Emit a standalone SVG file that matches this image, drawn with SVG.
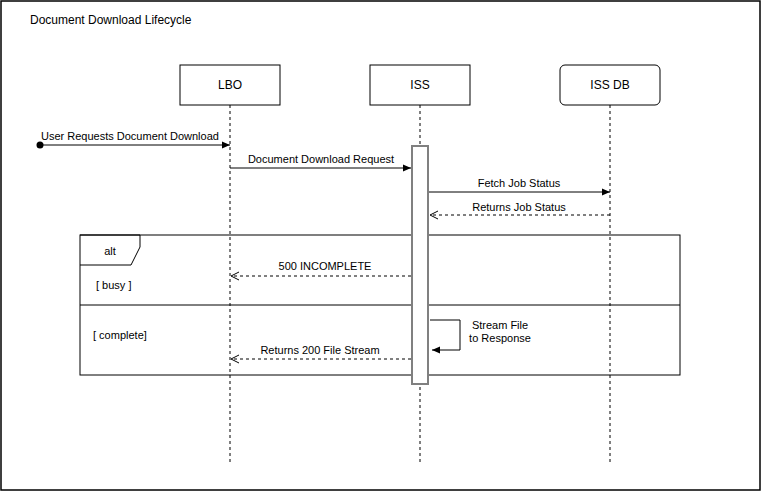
<svg xmlns="http://www.w3.org/2000/svg" width="761" height="491" viewBox="0 0 761 491">
<style>
text{font-family:"Liberation Sans",Arial,sans-serif;fill:#000}
.t11{font-size:11px}
.t12{font-size:12px}
.mid{text-anchor:middle}
.box{fill:#fff;stroke:#000;stroke-width:1}
.life{stroke:#000;stroke-width:1;stroke-dasharray:3 3;fill:none}
.msg{stroke:#000;stroke-width:1;fill:none}
.ret{stroke:#000;stroke-width:1;stroke-dasharray:3 3;fill:none}
</style>
<defs>
<marker id="block" markerWidth="10" markerHeight="10" refX="9" refY="5" orient="auto" markerUnits="userSpaceOnUse">
<path d="M1,1.5 L9,5 L1,8.5 Z" fill="#000"/>
</marker>
<marker id="open" markerWidth="10" markerHeight="10" refX="9" refY="5" orient="auto" markerUnits="userSpaceOnUse">
<path d="M1,1 L9,5 L1,9" fill="none" stroke="#000" stroke-width="1"/>
</marker>
<marker id="dot" markerWidth="8" markerHeight="8" refX="4" refY="4" orient="auto" markerUnits="userSpaceOnUse">
<circle cx="4" cy="4" r="3.5" fill="#000"/>
</marker>
</defs>
<rect x="0" y="0" width="761" height="491" fill="#fff"/>
<rect x="1" y="1" width="759" height="489" fill="none" stroke="#000" stroke-width="1.5"/>
<text class="t12" x="30" y="24">Document Download Lifecycle</text>

<g id="lifelines">
<line class="life" x1="230" y1="105" x2="230" y2="462"/>
<line class="life" x1="420" y1="105" x2="420" y2="462"/>
<line class="life" x1="610" y1="105" x2="610" y2="462"/>
</g>

<g id="node-lbo">
<rect class="box" x="180" y="65" width="100" height="40"/>
<text class="t12 mid" x="230" y="89">LBO</text>
</g>
<g id="node-iss">
<rect class="box" x="370" y="65" width="100" height="40"/>
<text class="t12 mid" x="420" y="89">ISS</text>
</g>
<g id="node-issdb">
<rect class="box" x="560" y="65" width="100" height="40" rx="5" ry="5"/>
<text class="t12 mid" x="610" y="89">ISS DB</text>
</g>

<g id="alt-frame">
<rect x="80" y="235" width="600" height="140" fill="none" stroke="#000" stroke-width="1"/>
<path d="M80,235 L140,235 L140,247 L131,265 L80,265" fill="none" stroke="#000" stroke-width="1"/>
<line x1="80" y1="305" x2="680" y2="305" stroke="#000" stroke-width="1"/>
<text class="t11 mid" x="110" y="255">alt</text>
<text class="t11" x="96" y="289">[ busy ]</text>
<text class="t11" x="93" y="339">[ complete]</text>
</g>

<g id="activation-iss">
<rect x="412" y="146" width="16" height="238" fill="#fff" stroke="#808080" stroke-width="2"/>
</g>

<g id="connectors">
<line class="msg" x1="40" y1="145" x2="230" y2="145" marker-start="url(#dot)" marker-end="url(#block)"/>
<text class="t11" x="41" y="140">User Requests Document Download</text>

<line class="msg" x1="230" y1="168" x2="411" y2="168" marker-end="url(#block)"/>
<text class="t11 mid" x="321" y="163">Document Download Request</text>

<line class="msg" x1="429" y1="192" x2="610" y2="192" marker-end="url(#block)"/>
<text class="t11 mid" x="519" y="187">Fetch Job Status</text>

<line class="ret" x1="610" y1="215" x2="430" y2="215" marker-end="url(#open)"/>
<text class="t11 mid" x="519" y="211">Returns Job Status</text>

<line class="ret" x1="411" y1="276" x2="231" y2="276" marker-end="url(#open)"/>
<text class="t11 mid" x="325" y="270">500 INCOMPLETE</text>

<path class="msg" d="M430,320 L460,320 L460,350 L432,350" marker-end="url(#block)"/>
<text class="t11 mid" x="500" y="329">Stream File</text>
<text class="t11 mid" x="500" y="342">to Response</text>

<line class="ret" x1="411" y1="359" x2="231" y2="359" marker-end="url(#open)"/>
<text class="t11 mid" x="320" y="354">Returns 200 File Stream</text>
</g>
</svg>
